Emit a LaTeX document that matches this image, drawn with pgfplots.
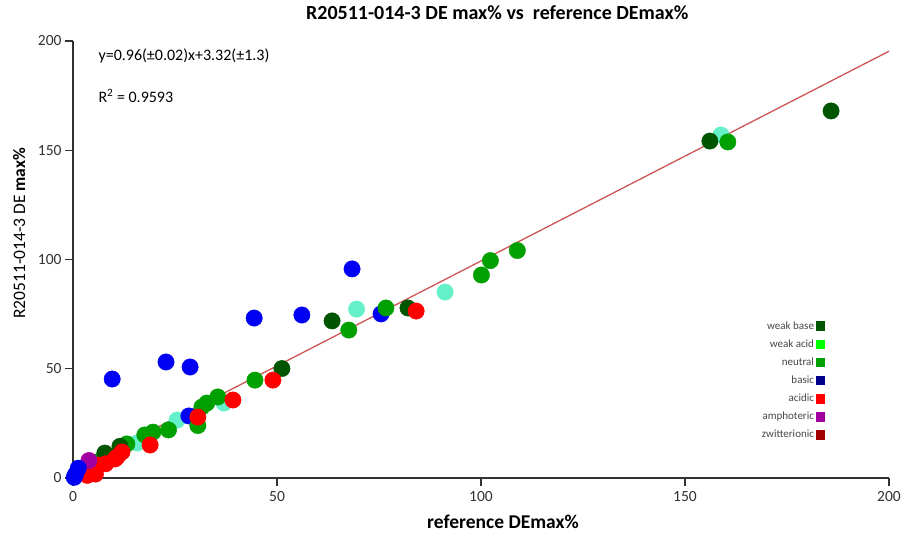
\documentclass[border=0pt]{standalone}
\usepackage{fontspec}
\setmainfont{Carlito}
\usepackage{pgfplots}
\pgfplotsset{compat=1.18}

\definecolor{weakbase}{RGB}{0,85,0}
\definecolor{weakacidpt}{RGB}{100,240,200}
\definecolor{weakacid}{RGB}{0,255,0}
\definecolor{neutral}{RGB}{0,160,0}
\definecolor{basicpt}{RGB}{0,0,245}
\definecolor{basic}{RGB}{0,0,140}
\definecolor{acidic}{RGB}{255,0,0}
\definecolor{amphoteric}{RGB}{160,0,160}
\definecolor{zwitterionic}{RGB}{160,0,0}
\definecolor{fitline}{RGB}{205,85,85}
\definecolor{axisgray}{RGB}{50,50,50}
\definecolor{legtext}{RGB}{70,70,70}

\begin{document}
\begin{tikzpicture}
\path[use as bounding box] (0,0) rectangle (902pt,533pt);
\begin{axis}[
  at={(73pt,55pt)}, anchor=south west,
  scale only axis, width=816pt, height=437pt,
  xmin=0, xmax=200, ymin=0, ymax=200,
  axis lines=left,
  axis line style={-, axisgray, line width=1.2pt},
  tick align=outside, major tick length=8pt,
  tick style={axisgray, line width=1.2pt},
  xtick={0,50,...,200}, ytick={0,50,...,200},
  /pgf/number format/assume math mode=true,
  tick label style={font=\fontsize{15.5}{16}\selectfont, text=axisgray},
  xticklabel style={yshift=-2pt},
  clip=false,
  title={\bfseries R20511-014-3 DE max\% vs\ \ reference DEmax\%},
  title style={at={(axis description cs:0.52,1)}, anchor=base, yshift=15pt,
    font=\fontsize{20}{21}\selectfont},
  xlabel={\bfseries reference DEmax\%},
  xlabel style={at={(axis description cs:0.527,0)}, anchor=base, yshift=-50pt,
    font=\fontsize{19.5}{20}\selectfont},
  ylabel={R20511-014-3 DE \textbf{max\%}},
  ylabel style={at={(axis description cs:-0.066,0.56)}, anchor=center,
    font=\fontsize{17.5}{18}\selectfont},
  legend plot pos=right,
  legend cell align=right,
  legend style={at={(axis description cs:0.925,0.368)}, anchor=north east,
    draw=none, fill=none, row sep=5pt,
    font=\fontsize{11}{12}\selectfont\color{legtext}},
  every axis plot/.append style={only marks, mark=*, mark size=8.2pt},
]
% least-squares fit
\addplot[fitline, line width=1.3pt, mark=none, sharp plot, forget plot]
  coordinates {(0,3.32) (200,195.32)};

% zwitterionic
\addplot[zwitterionic, forget plot] coordinates {(5.5,4.8)};
% weak acid
\addplot[weakacidpt, forget plot] coordinates {
  (158.8,157.0) (91.2,85.1) (69.5,77.3) (37.0,34.3) (25.5,26.5) (15.7,16.0)};
% basic
\addplot[basicpt, forget plot] coordinates {
  (68.4,95.7) (56.1,74.6) (44.4,73.2) (75.5,75.1) (22.8,53.1)
  (28.7,50.8) (9.6,45.3) (28.4,28.4)};
% neutral
\addplot[neutral, forget plot] coordinates {
  (160.5,153.8) (108.9,104.1) (102.3,99.5) (100.1,92.9) (76.7,77.8)
  (67.6,67.7) (44.6,44.8) (35.5,37.1) (32.8,34.3) (31.6,32.5)
  (30.6,24.0) (23.4,22.0) (19.6,21.0) (17.6,19.7) (13.2,15.6)
  (9.0,10.0) (5.9,7.3)};
% weak base
\addplot[weakbase, forget plot] coordinates {
  (185.8,168.0) (156.1,154.2) (82.1,77.8) (63.5,71.9) (51.2,50.1)
  (11.5,14.5) (7.8,11.4)};
% acidic
\addplot[acidic, forget plot] coordinates {
  (84.1,76.4) (49.0,44.8) (39.2,35.7) (30.6,27.9) (18.9,15.1)
  (12.0,11.9) (10.8,9.6) (10.3,8.7) (8.0,6.5) (6.1,5.9)
  (4.7,3.7) (5.5,1.8) (2.9,2.3) (3.5,1.2)};
% amphoteric
\addplot[amphoteric, forget plot] coordinates {(3.9,8.0)};
% basic, near the origin
\addplot[basicpt, forget plot] coordinates {(0.3,0.3) (0.6,1.6) (1.3,4.5)};

% legend keys
\addlegendimage{only marks, mark=square*, mark size=4.3pt, weakbase}
\addlegendentry{weak base}
\addlegendimage{only marks, mark=square*, mark size=4.3pt, weakacid}
\addlegendentry{weak acid}
\addlegendimage{only marks, mark=square*, mark size=4.3pt, neutral}
\addlegendentry{neutral}
\addlegendimage{only marks, mark=square*, mark size=4.3pt, basic}
\addlegendentry{basic}
\addlegendimage{only marks, mark=square*, mark size=4.3pt, acidic}
\addlegendentry{acidic}
\addlegendimage{only marks, mark=square*, mark size=4.3pt, amphoteric}
\addlegendentry{amphoteric}
\addlegendimage{only marks, mark=square*, mark size=4.3pt, zwitterionic}
\addlegendentry{zwitterionic}

\node[anchor=west, font=\fontsize{16}{17}\selectfont]
  at (axis description cs:0.027,0.966) {y=0.96(±0.02)x+3.32(±1.3)};
\node[anchor=west, font=\fontsize{16}{17}\selectfont]
  at (axis description cs:0.027,0.874) {R\textsuperscript{2} = 0.9593};
\end{axis}
\end{tikzpicture}
\end{document}
